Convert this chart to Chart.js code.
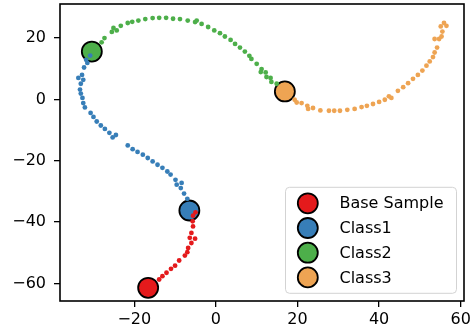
<!DOCTYPE html>
<html>
<head>
<meta charset="utf-8">
<script src="https://cdn.jsdelivr.net/npm/chart.js@4/dist/chart.umd.min.js"></script>
<style>
  html, body { margin: 0; padding: 0; background: #fff; }
</style>
</head>
<body>
<canvas id="chart" width="470" height="332"></canvas>
<script>
/* Trajectories from a base sample towards three class anchors. */
const labels = ["Base Sample", "Class1", "Class2", "Class3"];
const colors = ["#e41a1c", "#377eb8", "#4daf4a", "#eea453"];

// big anchor markers, one per label
const centers = [[-16.6, -61.4], [-6.5, -36.2], [-30.4, 15.6], [16.9, 2.6]];

const baseDots = [[-5.0,-36.8],[-5.6,-37.9],[-5.7,-39.7],[-5.6,-41.4],[-6.0,-43.5],[-6.4,-45.1],
  [-5.1,-45.4],[-6.0,-46.8],[-6.8,-48.4],[-7.0,-49.8],[-7.6,-50.9],[-9.0,-52.5],[-10.0,-54.2],
  [-11.0,-55.2],[-12.1,-56.5],[-13.1,-57.6],[-13.9,-58.7]];

const class1Dots = [[-30.8,14.3],[-31.8,12.9],[-31.5,11.9],[-32.3,10.4],[-32.8,8.0],[-33.7,7.0],
  [-32.5,6.4],[-33.1,5.1],[-33.3,3.2],[-33.1,1.9],[-32.7,0.5],[-32.5,-1.2],[-32.1,-2.6],
  [-30.7,-4.4],[-30.0,-5.7],[-29.2,-7.2],[-28.2,-8.5],[-27.2,-9.6],[-26.1,-10.9],[-25.3,-12.4],
  [-24.5,-11.6],[-21.6,-15.0],[-20.4,-16.2],[-19.2,-17.1],[-17.9,-18.0],[-16.7,-19.1],
  [-15.5,-20.2],[-14.3,-21.3],[-13.1,-22.3],[-11.9,-23.5],[-11.1,-24.5],[-9.9,-26.2],
  [-9.6,-27.8],[-8.4,-27.2],[-8.6,-28.9],[-7.8,-30.7],[-7.0,-32.4]];

const class2Dots = [[-28.0,18.6],[-27.3,20.0],[-25.5,22.0],[-25.1,23.3],[-24.3,22.5],[-23.3,24.0],
  [-21.6,24.9],[-20.5,25.3],[-19.0,25.7],[-17.3,26.2],[-15.5,26.5],[-13.9,26.6],[-12.2,26.6],
  [-10.5,26.3],[-8.8,26.2],[-6.9,25.7],[-5.1,25.2],[-4.7,25.7],[-3.5,24.6],[-1.9,23.6],
  [-0.4,22.5],[1.0,21.6],[2.2,20.5],[3.6,19.4],[4.7,18.1],[5.9,16.9],[7.1,15.6],[8.2,14.2],
  [8.7,13.2],[10.0,11.6],[11.2,9.9],[11.0,8.9],[12.2,8.8],[12.4,7.3],[13.4,7.0],[13.6,5.7],
  [14.9,5.1]];

const class3Dots = [[19.3,-0.1],[19.8,-1.0],[21.0,-1.2],[22.4,-2.1],[22.6,-3.1],[23.8,-2.8],
  [25.6,-3.6],[27.7,-3.7],[29.0,-3.7],[30.4,-3.7],[32.2,-3.4],[34.0,-3.1],[35.7,-2.5],
  [37.0,-2.1],[38.5,-1.5],[40.0,-0.8],[41.4,-0.1],[42.4,1.0],[43.0,0.5],[44.6,2.8],[45.9,4.0],
  [47.1,5.3],[48.3,6.7],[49.5,8.0],[50.6,9.4],[51.6,11.0],[52.4,12.4],[53.2,13.8],[53.6,15.3],
  [54.2,16.9],[53.6,19.7],[54.7,19.7],[55.3,20.5],[55.5,22.1],[55.1,23.8],[55.9,24.9],
  [56.5,24.0]];

const xTicks = [-20, 0, 20, 40, 60];
const yTicks = [-60, -40, -20, 0, 20];
const xRange = [-38.2, 60.8];
const yRange = [-65.7, 31.1];

const FONT = '"DejaVu Sans", "Liberation Sans", sans-serif';
const toXY = (pts) => pts.map(([x, y]) => ({ x, y }));
const fmt = (v) => (v < 0 ? "\u2212" + Math.abs(v) : String(v));

const dotSets = [baseDots, class1Dots, class2Dots, class3Dots];
const datasets = [];
dotSets.forEach(function (pts, i) {
  datasets.push({
    label: labels[i] + " path",
    data: toXY(pts),
    backgroundColor: colors[i],
    borderWidth: 0,
    pointRadius: 2.4,
    order: 1,
  });
});
centers.forEach(function (c, i) {
  datasets.push({
    label: labels[i],
    data: toXY([c]),
    backgroundColor: colors[i],
    borderColor: "#000",
    borderWidth: 1.8,
    pointRadius: 10,
    order: 2,
  });
});

// matplotlib-style box round the axes
const frame = {
  id: "frame",
  afterDatasetsDraw(chart) {
    const { ctx, chartArea: a } = chart;
    ctx.save();
    ctx.strokeStyle = "#000";
    ctx.lineWidth = 1.6;
    ctx.strokeRect(a.left, a.top, a.right - a.left, a.bottom - a.top);
    ctx.restore();
  },
};

// legend in the lower right corner of the plot
const legendBox = {
  id: "legendBox",
  afterDraw(chart) {
    const { ctx, chartArea: a } = chart;
    const w = 171, h = 106;
    const x0 = a.right - 7.5 - w, y0 = a.bottom - 7.7 - h;
    ctx.save();
    ctx.beginPath();
    ctx.roundRect(x0, y0, w, h, 4);
    ctx.fillStyle = "rgba(255,255,255,0.8)";
    ctx.fill();
    ctx.strokeStyle = "#d3d3d3";
    ctx.lineWidth = 1;
    ctx.stroke();
    ctx.font = "16px " + FONT;
    ctx.textBaseline = "middle";
    labels.forEach(function (lab, i) {
      const cy = y0 + 16 + i * 24.7;
      ctx.beginPath();
      ctx.arc(x0 + 22.3, cy, 10, 0, Math.PI * 2);
      ctx.fillStyle = colors[i];
      ctx.fill();
      ctx.strokeStyle = "#000";
      ctx.lineWidth = 1.8;
      ctx.stroke();
      ctx.fillStyle = "#000";
      ctx.fillText(lab, x0 + 54, cy + 1);
    });
    ctx.restore();
  },
};

const axisGrid = { drawOnChartArea: false, drawTicks: true, tickLength: 6, color: "#000", lineWidth: 1.3 };

new Chart(document.getElementById("chart"), {
  type: "scatter",
  data: { datasets: datasets },
  options: {
    responsive: false,
    devicePixelRatio: 1,
    animation: false,
    layout: { autoPadding: false, padding: { top: 4, right: 6, left: 0, bottom: 0 } },
    plugins: { legend: { display: false }, tooltip: { enabled: false } },
    scales: {
      x: {
        type: "linear",
        min: xRange[0],
        max: xRange[1],
        afterBuildTicks: (s) => { s.ticks = xTicks.map((v) => ({ value: v })); },
        afterFit: (s) => { s.height = 31; s.paddingLeft = 0; s.paddingRight = 0; },
        grid: axisGrid,
        border: { display: false },
        ticks: { color: "#000", font: { family: FONT, size: 16 }, padding: 3, maxRotation: 0, callback: fmt },
      },
      y: {
        type: "linear",
        min: yRange[0],
        max: yRange[1],
        afterBuildTicks: (s) => { s.ticks = yTicks.map((v) => ({ value: v })); },
        afterFit: (s) => { s.width = 60; s.paddingTop = 0; s.paddingBottom = 0; },
        grid: axisGrid,
        border: { display: false },
        ticks: { color: "#000", font: { family: FONT, size: 16 }, padding: 8, callback: fmt },
      },
    },
  },
  plugins: [frame, legendBox],
});
</script>
</body>
</html>
